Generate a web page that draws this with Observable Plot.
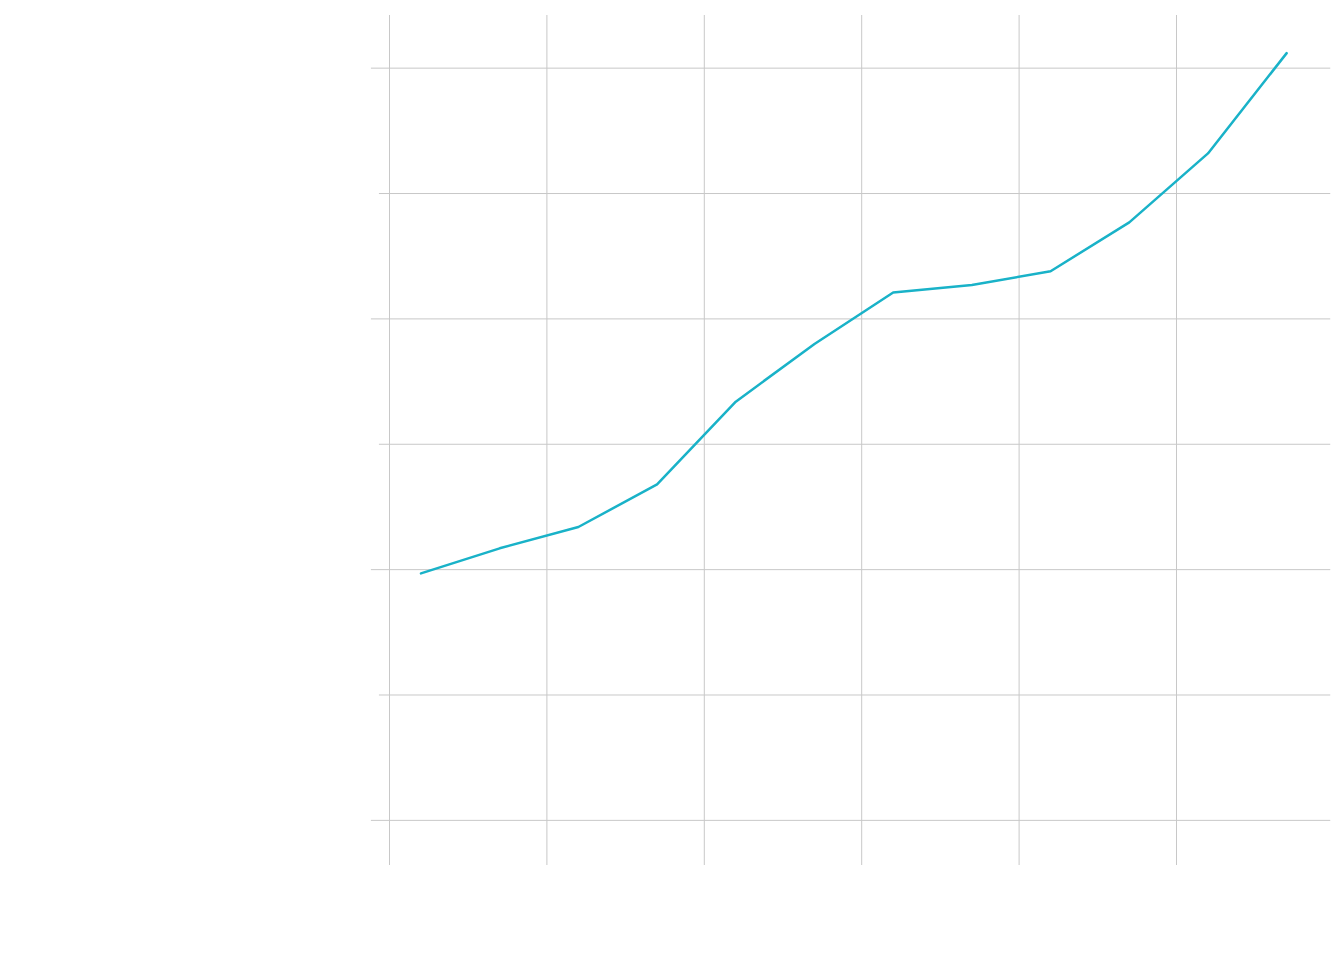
<!DOCTYPE html>
<html>
<head>
<meta charset="utf-8">
<script src="https://cdn.jsdelivr.net/npm/d3@7"></script>
<script src="https://cdn.jsdelivr.net/npm/@observablehq/plot@0.6"></script>
<style>body{margin:0;background:#fff;font-family:"Noto Sans",sans-serif}</style>
</head>
<body>
<div id="chart"></div>
<script>
// values
const xs = [0.2, 0.7, 1.2, 1.7, 2.2, 2.7, 3.2, 3.7, 4.2, 4.7, 5.2, 5.7]
const ys = [1.97, 2.17, 2.34, 2.68, 3.34, 3.80, 4.21, 4.27, 4.38, 4.77, 5.32, 6.12]
const xGrid = [0, 1, 2, 3, 4, 5]
const yMajor = [0, 2, 4, 6]
const yMinor = [1, 3, 5]

const data = xs.map((x, i) => ({x, y: ys[i]}))

let chart = Plot.plot({
  width: 1344,
  height: 960,
  marginLeft: 389,
  marginRight: 10.6,
  marginTop: 15,
  marginBottom: 95,
  x: {domain: [0, 6], axis: null},
  y: {domain: [-0.36, 6.42], axis: null},
  marks: [
    Plot.ruleX(xGrid, {stroke: "#c8c8c8", strokeWidth: 1}),
    Plot.ruleY(yMajor, {x1: -0.115, x2: 5.98, stroke: "#c8c8c8", strokeWidth: 1}),
    Plot.ruleY(yMinor, {x1: -0.064, x2: 5.98, stroke: "#c8c8c8", strokeWidth: 1}),
    Plot.line(data, {x: "x", y: "y", stroke: "#19b2c8", strokeWidth: 2.5})
  ]
})

d3.select("#chart").append(() => chart)
</script>
</body>
</html>
